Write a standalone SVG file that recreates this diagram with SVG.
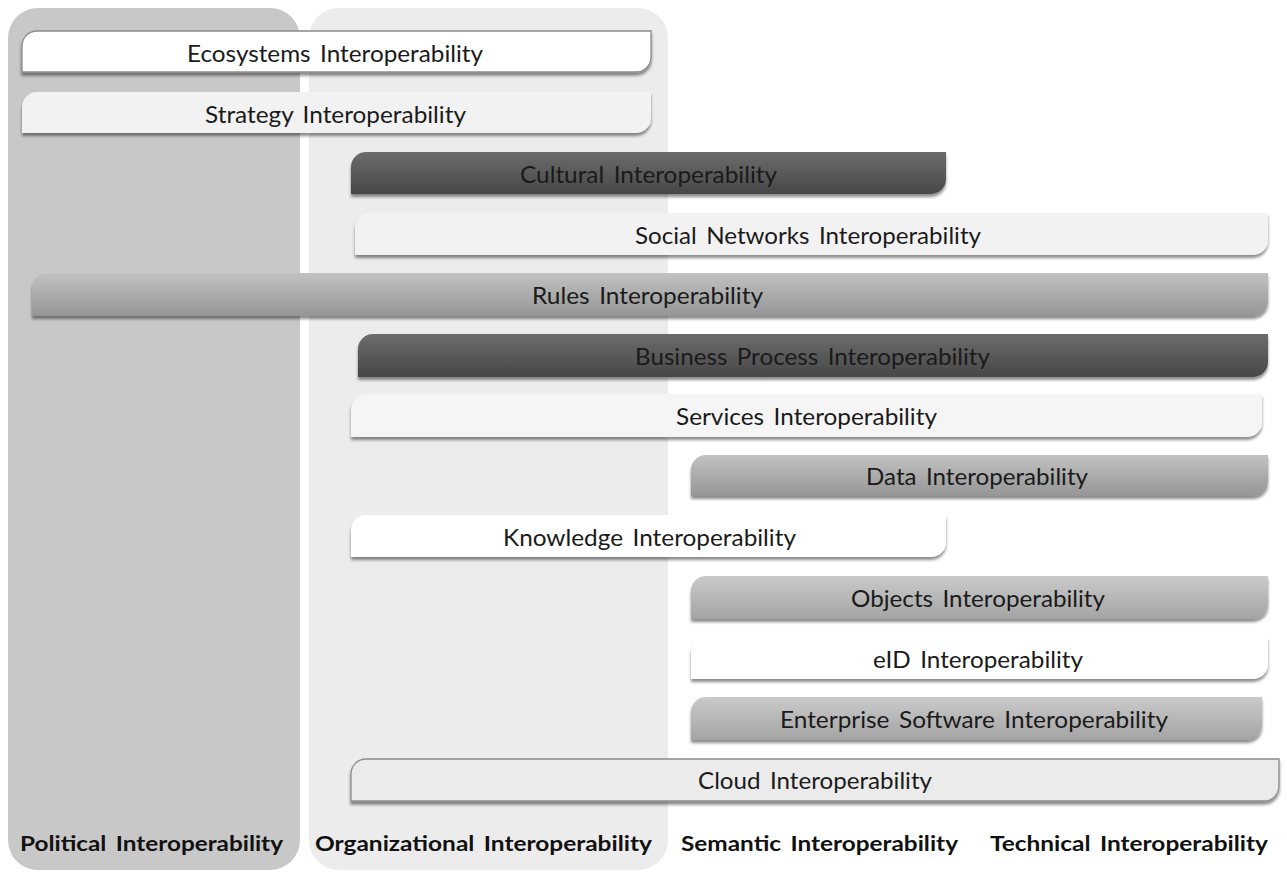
<svg xmlns="http://www.w3.org/2000/svg" width="1287" height="875" viewBox="0 0 1287 875">
<style>
.lbl{font-family:Lato,"Open Sans","Liberation Sans",sans-serif;font-size:22.5px;word-spacing:3px;fill:#1a1a1a;text-anchor:middle}
.hdr{font-family:Lato,"Open Sans","Liberation Sans",sans-serif;font-size:21.5px;word-spacing:3px;font-weight:bold;fill:#111;text-anchor:middle}
.bar{filter:url(#sh)}
</style>
<defs>
<filter id="sh" x="-5%" y="-30%" width="110%" height="170%">
<feDropShadow dx="0" dy="3" stdDeviation="1.6" flood-color="#000" flood-opacity="0.45"/>
</filter>
<linearGradient id="gDark" x1="0" y1="0" x2="0" y2="1"><stop offset="0" stop-color="#6c6c6c"/><stop offset="1" stop-color="#474747"/></linearGradient>
<linearGradient id="gMid" x1="0" y1="0" x2="0" y2="1"><stop offset="0" stop-color="#c2c2c2"/><stop offset="1" stop-color="#959595"/></linearGradient>
<linearGradient id="gLight" x1="0" y1="0" x2="0" y2="1"><stop offset="0" stop-color="#cacaca"/><stop offset="1" stop-color="#a4a4a4"/></linearGradient>
</defs>
<rect width="1287" height="875" fill="#fff"/>
<g id="columns">
<rect id="col-political" x="8" y="8" width="292" height="862" rx="30" fill="#c8c8c8"/>
<rect id="col-organizational" x="309" y="8" width="359" height="862" rx="30" fill="#ececec"/>
</g>
<g id="connectors"/>
<g id="n-ecosystems">
<path class="bar" d="M37,31H651V57A15,15 0 0 1 636,72H22V46A15,15 0 0 1 37,31Z" fill="#fff" stroke="#8c8c8c" stroke-width="1.3"/>
<text class="lbl" x="335" y="62" textLength="296" lengthAdjust="spacingAndGlyphs">Ecosystems Interoperability</text>
</g>
<g id="n-strategy">
<path class="bar" d="M37,92H651V118A15,15 0 0 1 636,133H22V107A15,15 0 0 1 37,92Z" fill="#f2f2f2"/>
<text class="lbl" x="335.5" y="123" textLength="261" lengthAdjust="spacingAndGlyphs">Strategy Interoperability</text>
</g>
<g id="n-cultural">
<path class="bar" d="M366,152H946V179A15,15 0 0 1 931,194H351V167A15,15 0 0 1 366,152Z" fill="url(#gDark)"/>
<text class="lbl" x="648.5" y="183" textLength="257" lengthAdjust="spacingAndGlyphs">Cultural Interoperability</text>
</g>
<g id="n-social">
<path class="bar" d="M370,213H1268V240A15,15 0 0 1 1253,255H355V228A15,15 0 0 1 370,213Z" fill="#f2f2f2"/>
<text class="lbl" x="808" y="244" textLength="346" lengthAdjust="spacingAndGlyphs">Social Networks Interoperability</text>
</g>
<g id="n-rules">
<path class="bar" d="M47,273H1268V301A15,15 0 0 1 1253,316H32V288A15,15 0 0 1 47,273Z" fill="url(#gMid)"/>
<text class="lbl" x="647.5" y="304" textLength="231" lengthAdjust="spacingAndGlyphs">Rules Interoperability</text>
</g>
<g id="n-business">
<path class="bar" d="M373,334H1268V362A15,15 0 0 1 1253,377H358V349A15,15 0 0 1 373,334Z" fill="url(#gDark)"/>
<text class="lbl" x="812.5" y="365" textLength="355" lengthAdjust="spacingAndGlyphs">Business Process Interoperability</text>
</g>
<g id="n-services">
<path class="bar" d="M366,394H1262V422A15,15 0 0 1 1247,437H351V409A15,15 0 0 1 366,394Z" fill="#f5f5f5"/>
<text class="lbl" x="806.5" y="425" textLength="261" lengthAdjust="spacingAndGlyphs">Services Interoperability</text>
</g>
<g id="n-data">
<path class="bar" d="M706,455H1268V481A15,15 0 0 1 1253,496H691V470A15,15 0 0 1 706,455Z" fill="url(#gMid)"/>
<text class="lbl" x="977" y="485" textLength="222" lengthAdjust="spacingAndGlyphs">Data Interoperability</text>
</g>
<g id="n-knowledge">
<path class="bar" d="M366,515H946V542A15,15 0 0 1 931,557H351V530A15,15 0 0 1 366,515Z" fill="#fff"/>
<text class="lbl" x="649.5" y="546" textLength="293" lengthAdjust="spacingAndGlyphs">Knowledge Interoperability</text>
</g>
<g id="n-objects">
<path class="bar" d="M706,576H1268V604A15,15 0 0 1 1253,619H691V591A15,15 0 0 1 706,576Z" fill="url(#gLight)"/>
<text class="lbl" x="978" y="607" textLength="254" lengthAdjust="spacingAndGlyphs">Objects Interoperability</text>
</g>
<g id="n-eid">
<path class="bar" d="M706,637H1268V664A15,15 0 0 1 1253,679H691V652A15,15 0 0 1 706,637Z" fill="#fff"/>
<text class="lbl" x="978" y="668" textLength="210" lengthAdjust="spacingAndGlyphs">eID Interoperability</text>
</g>
<g id="n-enterprise">
<path class="bar" d="M706,697H1262V725A15,15 0 0 1 1247,740H691V712A15,15 0 0 1 706,697Z" fill="url(#gLight)"/>
<text class="lbl" x="974" y="728" textLength="388" lengthAdjust="spacingAndGlyphs">Enterprise Software Interoperability</text>
</g>
<g id="n-cloud">
<path class="bar" d="M366,759H1279V786A15,15 0 0 1 1264,801H351V774A15,15 0 0 1 366,759Z" fill="#ebebeb" stroke="#8c8c8c" stroke-width="1.3"/>
<text class="lbl" x="815" y="789" textLength="234" lengthAdjust="spacingAndGlyphs">Cloud Interoperability</text>
</g>
<g id="n-headers">
<text class="hdr" x="151.5" y="851" textLength="263" lengthAdjust="spacingAndGlyphs">Political Interoperability</text>
<text class="hdr" x="483.5" y="851" textLength="337" lengthAdjust="spacingAndGlyphs">Organizational Interoperability</text>
<text class="hdr" x="819.5" y="851" textLength="277" lengthAdjust="spacingAndGlyphs">Semantic Interoperability</text>
<text class="hdr" x="1129" y="851" textLength="278" lengthAdjust="spacingAndGlyphs">Technical Interoperability</text>
</g>
</svg>
